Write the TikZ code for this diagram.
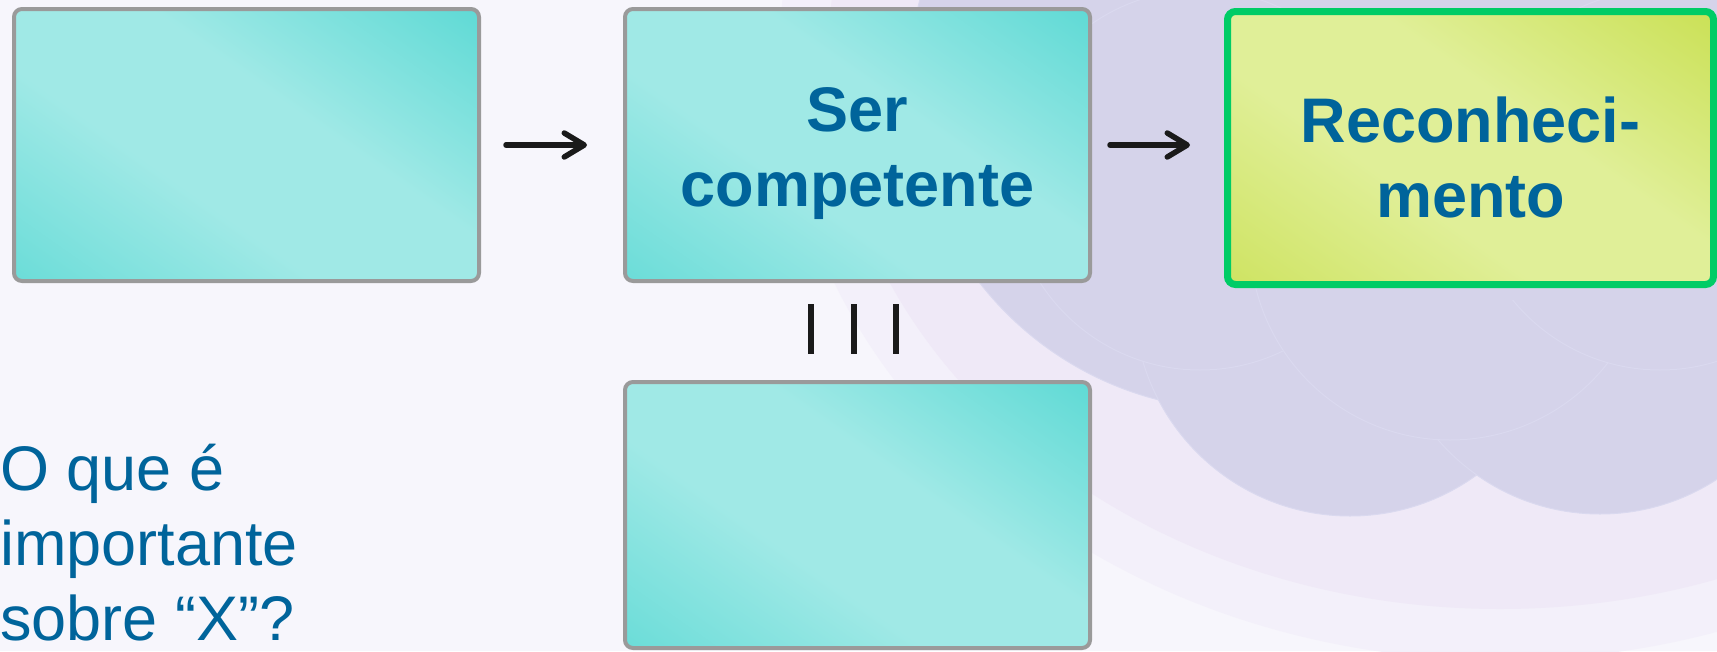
\documentclass[tikz,border=0pt]{standalone}
\usepackage{fontspec}
\setmainfont{Liberation Sans}
\usetikzlibrary{arrows.meta}
\definecolor{bgbase}{HTML}{F7F6FC}
\definecolor{bgouter}{HTML}{F3F0FA}
\definecolor{bgpale}{HTML}{EFE9F7}
\definecolor{bgcluster}{HTML}{D5D3EA}
\definecolor{bgscale}{HTML}{DAD9EF}
\definecolor{teallight}{HTML}{A0E9E6}
\definecolor{tealdark}{HTML}{57D8D3}
\definecolor{limelight}{HTML}{E0EF98}
\definecolor{limedark}{HTML}{C8DF4E}
\definecolor{boxgray}{HTML}{9A9A9A}
\definecolor{boxgreen}{HTML}{00CC66}
\definecolor{textblue}{HTML}{00649B}
\definecolor{inkblack}{HTML}{1A1A1A}
\pgfdeclareverticalshading{tealshade}{100bp}{color(0bp)=(tealdark); color(6bp)=(tealdark); color(40bp)=(teallight); color(58bp)=(teallight); color(88bp)=(tealdark); color(100bp)=(tealdark)}
\pgfdeclareverticalshading{limeshade}{100bp}{color(0bp)=(limedark); color(6bp)=(limedark); color(40bp)=(limelight); color(58bp)=(limelight); color(88bp)=(limedark); color(100bp)=(limedark)}
\begin{document}
\begin{tikzpicture}[x=1pt,y=-1pt,
  tealbox/.style={draw=boxgray, line width=4pt, rounded corners=8pt,
    minimum width=465pt, minimum height=272pt, inner sep=0pt,
    shade, shading=tealshade, shading angle=-35},
  limebox/.style={draw=boxgreen, line width=7pt, rounded corners=8pt,
    minimum width=486pt, minimum height=273pt, inner sep=0pt,
    shade, shading=limeshade, shading angle=-35},
  boxlabel/.style={align=center, inner sep=0pt, text=textblue,
    font=\fontsize{63}{75}\selectfont\bfseries},
  question/.style={align=left, inner sep=0pt, text=textblue,
    font=\fontsize{63}{75}\selectfont},
  flowarrow/.style={draw=inkblack, line width=5.5pt, line cap=round,
    -{Straight Barb[length=20pt,width=24pt,round]}},
  eqbar/.style={draw=inkblack, line width=6pt},
  petal/.style={fill=bgcluster, draw=bgscale, line width=1pt}
]
\useasboundingbox (0,0) rectangle (1717,651);
\clip (0,0) rectangle (1717,651);
% background
\fill[bgbase] (0,0) rectangle (1717,651);
\fill[bgouter] (1500,50) ellipse (720 and 610);
\fill[bgpale] (1500,50) ellipse (671 and 559);
\path[petal] (1240,80) circle (330);
\path[petal] (1550,100) circle (350);
\path[petal] (1350,300) circle (216);
\path[petal] (1600,300) circle (214);
\path[petal] (1200,180) circle (190);
\path[petal] (1450,240) circle (200);
\path[petal] (1660,180) circle (190);
\fill[bgcluster] (1520,150) circle (150);
% boxes
\node[tealbox] (b1) at (246.5,145) {};
\node[tealbox] (b2) at (857.5,145) {};
\node[tealbox, minimum height=266pt] (b4) at (857.5,515) {};
\node[limebox] (g) at (1470.5,148) {};
% labels
\node[boxlabel] (l2) at ([yshift=-8.7pt]b2.center) {Ser\\competente};
\node[boxlabel] (lg) at ([yshift=-9pt]g.center) {Reconheci-\\mento};
\node[question, anchor=south west] (q) at (0,641) {O que é\\importante\\sobre “X”?};
% connectors
\draw[flowarrow, shorten <=25pt, shorten >=36pt] (b1.east) -- (b2.west);
\draw[flowarrow, shorten <=18pt, shorten >=34pt] (b2.east) -- (b2.east -| g.west);
\draw[eqbar, shorten <=21pt, shorten >=26pt] ([xshift=-46.5pt]b2.south) -- ([xshift=-46.5pt]b4.north);
\draw[eqbar, shorten <=21pt, shorten >=26pt] ([xshift=-3.5pt]b2.south) -- ([xshift=-3.5pt]b4.north);
\draw[eqbar, shorten <=21pt, shorten >=26pt] ([xshift=38.5pt]b2.south) -- ([xshift=38.5pt]b4.north);
\end{tikzpicture}
\end{document}
